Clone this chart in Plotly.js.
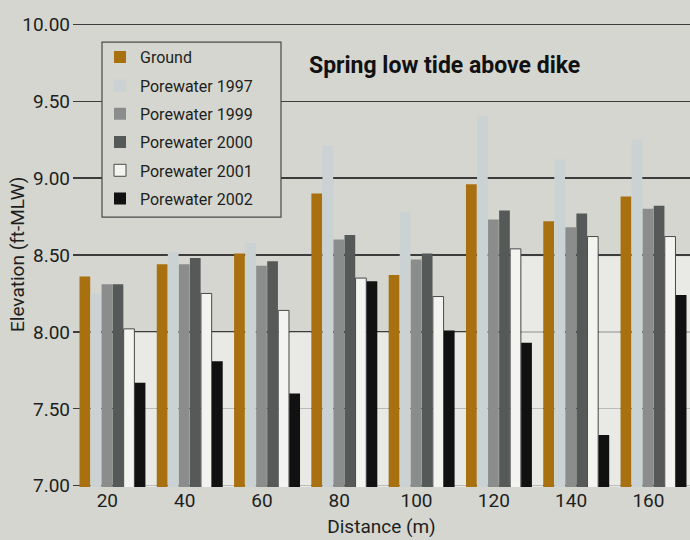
<!DOCTYPE html>
<html>
<head>
<meta charset="utf-8">
<script src="https://cdn.plot.ly/plotly-3.0.1.min.js"></script>
<style>html,body{margin:0;padding:0;background:#d4d6cf;}#chart{width:690px;height:540px;}</style>
</head>
<body>
<div id="chart"></div>
<script>
// Distance categories (m)
var categories = ['20', '40', '60', '80', '100', '120', '140', '160'];
// Elevation (ft-MLW)
var ground = [8.36, 8.44, 8.51, 8.90, 8.37, 8.96, 8.72, 8.88];
var pw1997 = [8.25, 8.52, 8.58, 9.21, 8.78, 9.40, 9.12, 9.25];
var pw1999 = [8.31, 8.44, 8.43, 8.60, 8.47, 8.73, 8.68, 8.80];
var pw2000 = [8.31, 8.48, 8.46, 8.63, 8.51, 8.79, 8.77, 8.82];
var pw2001 = [8.02, 8.25, 8.14, 8.35, 8.23, 8.54, 8.62, 8.62];
var pw2002 = [7.67, 7.81, 7.60, 8.33, 8.01, 7.93, 7.33, 8.24];
// light band seen behind the 2002 bars and the gap after each group
var gapBand = [8.00, 8.00, 8.00, 8.00, 8.00, 8.49, 8.49, 8.49];

var seriesNames = ['Ground', 'Porewater 1997', 'Porewater 1999', 'Porewater 2000', 'Porewater 2001', 'Porewater 2002'];
var seriesValues = [ground, pw1997, pw1999, pw2000, pw2001, pw2002];
var seriesColors = ['#a8700f', '#cbd2d4', '#8b8d8c', '#555a58', '#f3f4f0', '#111111'];

var slot = 1 / 7;
var start = -0.36;
var bg = '#d4d6cf';

var traces = [{
  type: 'bar', x: categories, y: gapBand, offset: start + 5 * slot, width: 2 * slot,
  marker: {color: '#f2f3ef', line: {width: 0}}, opacity: 0.7, showlegend: false, hoverinfo: 'skip'
}];
seriesNames.forEach(function (n, k) {
  traces.push({
    type: 'bar', name: n, x: categories, y: seriesValues[k],
    offset: start + k * slot, width: slot * 0.97,
    marker: {color: seriesColors[k], line: {color: k === 4 ? '#4a4a4a' : seriesColors[k], width: k === 4 ? 1 : 0}},
    legendgroup: 'g' + k
  });
});

var T = 22.8, B = 52.8, PH = 540 - T - B;
function py(pix) { return 1 - (pix - T) / PH; }
function px(pix) { return (pix - 73) / 617; }

var layout = {
  width: 690, height: 540,
  paper_bgcolor: bg, plot_bgcolor: bg,
  margin: {l: 73, r: 0, t: T, b: B},
  barmode: 'overlay',
  font: {family: 'Roboto, sans-serif', color: '#1e1e1e', size: 19},
  xaxis: {
    type: 'category', range: [-0.444, 7.538], showgrid: false, zeroline: false,
    showline: false, ticks: '', tickfont: {size: 19},
    title: {text: 'Distance (m)', font: {size: 19}, standoff: 8}
  },
  yaxis: {
    range: [6.992, 10.008], dtick: 0.5, tick0: 7, tickformat: '.2f',
    showgrid: true, gridcolor: '#3c3c3c', gridwidth: 1.2, zeroline: false,
    showline: false, ticks: '', tickfont: {size: 19}, ticklabelstandoff: 2
  },
  showlegend: true,
  legend: {
    x: px(100), y: py(40), xanchor: 'left', yanchor: 'top',
    bgcolor: 'rgba(0,0,0,0)', borderwidth: 0, font: {size: 16, color: '#1e1e1e'},
    tracegroupgap: 4.5, traceorder: 'grouped'
  },
  shapes: [{
    type: 'rect', xref: 'paper', yref: 'paper', layer: 'above',
    x0: px(102), x1: px(281), y0: py(217), y1: py(42),
    fillcolor: bg, line: {color: '#4a4a4a', width: 1.2}
  }],
  annotations: [{
    text: '<b>Spring low tide above dike</b>', xref: 'paper', yref: 'paper',
    x: px(444), y: py(65), xanchor: 'center', yanchor: 'middle',
    showarrow: false, font: {size: 23, color: '#111'}
  }, {
    text: 'Elevation (ft-MLW)', xref: 'paper', yref: 'paper', textangle: -90,
    x: px(17), y: py(255), xanchor: 'center', yanchor: 'middle',
    showarrow: false, font: {size: 19, color: '#1e1e1e'}
  }]
};

Plotly.newPlot('chart', traces, layout, {displayModeBar: false, staticPlot: true});
</script>
</body>
</html>
